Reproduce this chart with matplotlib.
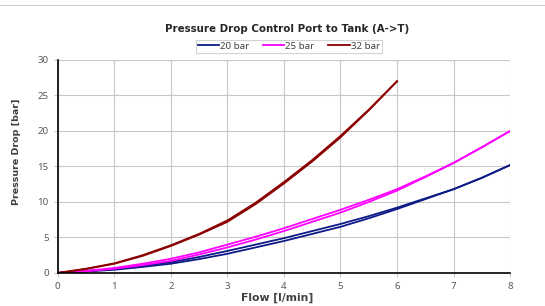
import matplotlib
matplotlib.use('Agg')
import matplotlib.pyplot as plt
from matplotlib.lines import Line2D

# flow values [l/min], half steps
flow = [0, 0.5, 1, 1.5, 2, 2.5, 3, 3.5, 4, 4.5, 5, 5.5, 6, 6.5, 7, 7.5, 8]
flow_32 = flow[:13]

# pressure drop [bar], two passes per pressure (up / down)
p20_up = [0, 0.25, 0.55, 1.0, 1.5, 2.25, 3.1, 4.0, 4.9, 5.9, 6.9, 8.0, 9.2, 10.5, 11.8, 13.4, 15.2]
p20_dn = [0, 0.2, 0.45, 0.85, 1.3, 1.95, 2.7, 3.6, 4.5, 5.5, 6.5, 7.7, 9.0, 10.4, 11.8, 13.4, 15.2]
p25_up = [0, 0.3, 0.7, 1.3, 2.0, 2.9, 4.0, 5.1, 6.3, 7.6, 8.9, 10.3, 11.8, 13.6, 15.5, 17.7, 20.0]
p25_dn = [0, 0.25, 0.6, 1.1, 1.7, 2.6, 3.6, 4.7, 5.9, 7.2, 8.5, 10.0, 11.6, 13.5, 15.5, 17.7, 20.0]
p32_up = [0, 0.6, 1.35, 2.5, 3.9, 5.5, 7.4, 9.9, 12.8, 15.9, 19.3, 23.0, 27.0]
p32_dn = [0, 0.55, 1.3, 2.4, 3.8, 5.4, 7.2, 9.7, 12.6, 15.7, 19.1, 22.9, 27.0]

labels = ['20 bar', '25 bar', '32 bar']
colors = ['#0d1a87', '#ff00ff', '#8b0000']

plt.rcParams['font.family'] = ['Noto Sans', 'DejaVu Sans']
bold_font = ['DejaVu Sans']

fig = plt.figure(figsize=(5.45, 3.06), dpi=100)
ax = fig.add_axes([0.106, 0.108, 0.830, 0.696])

ax.plot(flow, p20_up, color=colors[0], lw=1.3)
ax.plot(flow, p20_dn, color=colors[0], lw=1.3)
ax.plot(flow, p25_up, color=colors[1], lw=1.3)
ax.plot(flow, p25_dn, color=colors[1], lw=1.3)
ax.plot(flow_32, p32_up, color=colors[2], lw=1.3)
ax.plot(flow_32, p32_dn, color=colors[2], lw=1.3)

ax.set_xlim(0, 8)
ax.set_ylim(0, 30)
ax.set_xticks(range(0, 9))
ax.set_yticks(range(0, 31, 5))
ax.grid(True, color='#c8c8c8', lw=0.8)
ax.set_axisbelow(True)
for s in ['top', 'right']:
    ax.spines[s].set_visible(False)
ax.spines['left'].set_color('black')
ax.spines['bottom'].set_color('black')
ax.spines['left'].set_linewidth(1.2)
ax.spines['bottom'].set_linewidth(1.2)
ax.tick_params(axis='both', labelsize=7, colors='#595959', length=3, width=0.8)
ax.tick_params(axis='both', color='#c8c8c8')

ax.set_xlabel('Flow [l/min]', fontsize=7.8, fontweight='bold', color='#404040',
              labelpad=1, family=bold_font)
ax.set_ylabel('Pressure Drop [bar]', fontsize=6.8, fontweight='bold', color='#404040',
              labelpad=12, family=bold_font)
ax.xaxis.set_label_coords(0.485, -0.095)
ax.yaxis.label.set_y(0.57)

fig.text(0.526, 0.906, 'Pressure Drop Control Port to Tank (A->T)', ha='center', va='center',
         fontsize=7.4, fontweight='bold', color='#262626', family=bold_font)

handles = [Line2D([], [], color=c, lw=1.3) for c in colors]
leg = fig.legend(handles, labels, loc='center', bbox_to_anchor=(0.530, 0.849), ncol=3,
                 fontsize=7, frameon=True, fancybox=False, handlelength=2.2,
                 handletextpad=0.1, columnspacing=1.4, borderpad=0.2,
                 edgecolor='#c8c8c8')
leg.get_frame().set_linewidth(0.8)
for t in leg.get_texts():
    t.set_color('#404040')

fig.add_artist(Line2D([0, 1], [0.985, 0.985], color='#d0d0d0', lw=0.8, transform=fig.transFigure))

fig.savefig('out.png', dpi=100)
